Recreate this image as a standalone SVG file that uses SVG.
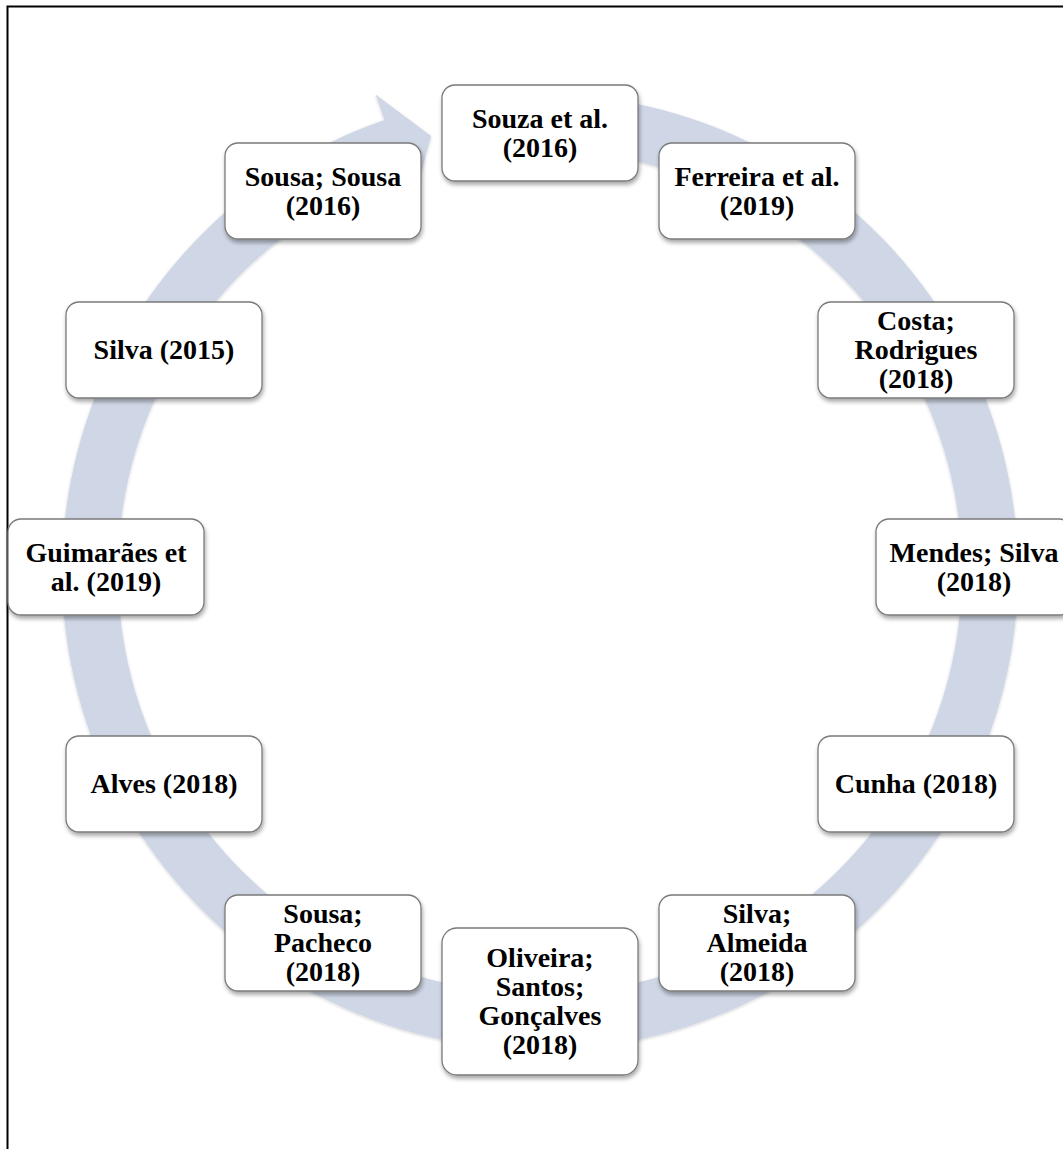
<svg xmlns="http://www.w3.org/2000/svg" width="1063" height="1149" viewBox="0 0 1063 1149">
<defs>
<filter id="sh" x="-10%" y="-10%" width="125%" height="130%">
<feDropShadow dx="1" dy="3" stdDeviation="2" flood-color="#000" flood-opacity="0.35"/>
</filter>
<filter id="rsh" x="-5%" y="-5%" width="110%" height="110%">
<feDropShadow dx="0" dy="1" stdDeviation="1.5" flood-color="#000" flood-opacity="0.18"/>
</filter>
</defs>
<style>
.box{fill:#fff;stroke:#7a7a7a;stroke-width:1.3}
.t{font-family:"Liberation Serif","Times New Roman",serif;font-weight:bold;font-size:28px;fill:#000;text-anchor:middle}
.ring{fill:#cfd7e6}
</style>
<rect width="1063" height="1149" fill="#fff"/>
<path d="M7.5,1149 V6.5 H1063" fill="none" stroke="#000" stroke-width="2"/>
<g id="connectors">
<path class="ring" filter="url(#rsh)" d="M465.23,99.88 A478,478 0 1 1 384.38,120.04 L375.59,94.51 L431.14,136 L414,199 L402.61,172.99 A422,422 0 1 0 473.99,155.2 Z"/>
</g>
<g id="n1"><rect class="box" filter="url(#sh)" x="442" y="85" width="196" height="96" rx="13"/><text class="t" x="540" y="128">Souza et al.</text><text class="t" x="540" y="157">(2016)</text></g>
<g id="n2"><rect class="box" filter="url(#sh)" x="659" y="143" width="196" height="96" rx="13"/><text class="t" x="757" y="186">Ferreira et al.</text><text class="t" x="757" y="215">(2019)</text></g>
<g id="n3"><rect class="box" filter="url(#sh)" x="818" y="302" width="196" height="96" rx="13"/><text class="t" x="916" y="330">Costa;</text><text class="t" x="916" y="359">Rodrigues</text><text class="t" x="916" y="388">(2018)</text></g>
<g id="n4"><rect class="box" filter="url(#sh)" x="876" y="519" width="196" height="96" rx="13"/><text class="t" x="974" y="562">Mendes; Silva</text><text class="t" x="974" y="591">(2018)</text></g>
<g id="n5"><rect class="box" filter="url(#sh)" x="818" y="736" width="196" height="96" rx="13"/><text class="t" x="916" y="793">Cunha (2018)</text></g>
<g id="n6"><rect class="box" filter="url(#sh)" x="659" y="895" width="196" height="96" rx="13"/><text class="t" x="757" y="923">Silva;</text><text class="t" x="757" y="952">Almeida</text><text class="t" x="757" y="981">(2018)</text></g>
<g id="n7"><rect class="box" filter="url(#sh)" x="442" y="928" width="196" height="147" rx="15"/><text class="t" x="540" y="967">Oliveira;</text><text class="t" x="540" y="996">Santos;</text><text class="t" x="540" y="1025">Gonçalves</text><text class="t" x="540" y="1054">(2018)</text></g>
<g id="n8"><rect class="box" filter="url(#sh)" x="225" y="895" width="196" height="96" rx="13"/><text class="t" x="323" y="923">Sousa;</text><text class="t" x="323" y="952">Pacheco</text><text class="t" x="323" y="981">(2018)</text></g>
<g id="n9"><rect class="box" filter="url(#sh)" x="66" y="736" width="196" height="96" rx="13"/><text class="t" x="164" y="793">Alves (2018)</text></g>
<g id="n10"><rect class="box" filter="url(#sh)" x="8" y="519" width="196" height="96" rx="13"/><text class="t" x="106" y="562">Guimarães et</text><text class="t" x="106" y="591">al. (2019)</text></g>
<g id="n11"><rect class="box" filter="url(#sh)" x="66" y="302" width="196" height="96" rx="13"/><text class="t" x="164" y="359">Silva (2015)</text></g>
<g id="n12"><rect class="box" filter="url(#sh)" x="225" y="143" width="196" height="96" rx="13"/><text class="t" x="323" y="186">Sousa; Sousa</text><text class="t" x="323" y="215">(2016)</text></g>
</svg>
